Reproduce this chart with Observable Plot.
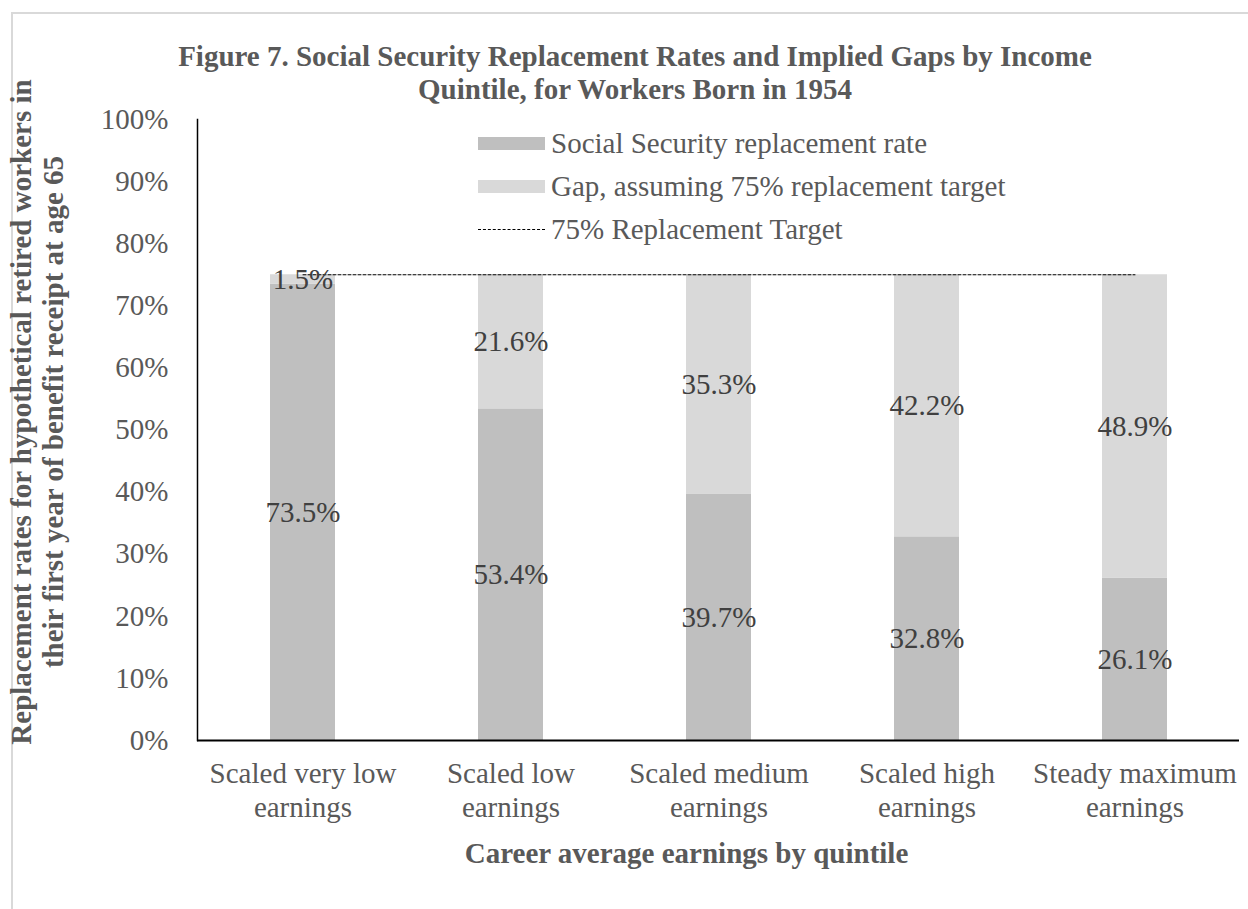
<!DOCTYPE html>
<html>
<head>
<meta charset="utf-8">
<script src="https://cdn.jsdelivr.net/npm/d3@7"></script>
<script src="https://cdn.jsdelivr.net/npm/@observablehq/plot@0.6"></script>
<style>
  html, body { margin: 0; padding: 0; background: #fff; }
  #wrap { position: relative; width: 1248px; height: 909px; overflow: hidden; font-family: "Liberation Serif", "Times New Roman", serif; }
  #border { position: absolute; left: 11px; top: 12px; width: 1300px; height: 1000px; border-top: 2px solid #d9d9d9; border-left: 2px solid #d9d9d9; }
  #title { position: absolute; left: 0; top: 40px; width: 1270px; text-align: center; font-weight: bold; font-size: 29px; line-height: 33px; color: #595959; }
  #chart { position: absolute; left: 0; top: 0; }
  .lg { position: absolute; left: 551px; font-size: 29px; line-height: 32px; color: #595959; white-space: nowrap; }
  .sw { position: absolute; width: 67px; height: 13px; left: 478px; }
  .dash { position: absolute; left: 478px; width: 67px; height: 0; border-top: 1px dashed #000; }
</style>
</head>
<body>
<div id="wrap">
  <div id="border"></div>
  <div id="chart"></div>
  <div id="title">Figure 7. Social Security Replacement Rates and Implied Gaps by Income<br>Quintile, for Workers Born in 1954</div>
  <div id="legend"></div>
</div>
<script>
const categories = ["Scaled very low earnings", "Scaled low earnings", "Scaled medium earnings", "Scaled high earnings", "Steady maximum earnings"];
const tickLabels = ["Scaled very low\nearnings", "Scaled low\nearnings", "Scaled medium\nearnings", "Scaled high\nearnings", "Steady maximum\nearnings"];
const replacementRate = [73.5, 53.4, 39.7, 32.8, 26.1];
const gapValues = [1.5, 21.6, 35.3, 42.2, 48.9];
const targetValues = [75, 75, 75, 75, 75];
const seriesNames = ["Social Security replacement rate", "Gap, assuming 75% replacement target"];
const targetName = "75% Replacement Target";
const seriesColors = ["#bfbfbf", "#d9d9d9"];
const yTicks = [0, 10, 20, 30, 40, 50, 60, 70, 80, 90, 100];
const yTitle = "Replacement rates for hypothetical retired workers in\ntheir first year of benefit receipt at age 65";
const xTitle = "Career average earnings by quintile";

const rows = [];
categories.forEach((c, i) => {
  rows.push({cat: c, series: seriesNames[0], value: replacementRate[i]});
  rows.push({cat: c, series: seriesNames[1], value: gapValues[i]});
});
const targetRows = categories.map((c, i) => ({cat: c, value: targetValues[i]}));
const labelOf = new Map(categories.map((c, i) => [c, tickLabels[i]]));

const chart = Plot.plot({
  width: 1248,
  height: 909,
  marginLeft: 197,
  marginRight: 9,
  marginTop: 119,
  marginBottom: 169,
  style: {fontFamily: "'Liberation Serif', 'Times New Roman', serif", background: "transparent"},
  x: {domain: categories, paddingInner: 0.688, paddingOuter: 0.344, axis: null},
  y: {domain: [0, 100], axis: null},
  color: {domain: seriesNames, range: seriesColors},
  marks: [
    Plot.barY(rows, {x: "cat", y: "value", fill: "series", order: seriesNames}),
    Plot.axisY({ticks: yTicks, tickFormat: d => d + "%", tickSize: 0, tickPadding: 29, fontSize: 29, fill: "#595959", label: null}),
    Plot.axisX({tickSize: 0, tickPadding: 19, fontSize: 29, lineHeight: 1.15, fill: "#595959", tickFormat: d => labelOf.get(d), label: null}),
    Plot.ruleY([0], {stroke: "#000", strokeWidth: 2}),
    Plot.frame({anchor: "left", stroke: "#000", strokeWidth: 1.5}),
    Plot.lineY(targetRows, {x: "cat", y: "value", stroke: "#000", strokeWidth: 1, strokeDasharray: "3,2"}),
    Plot.text(rows, Plot.stackY({x: "cat", y: "value", order: seriesNames, z: "series", text: d => d.value.toFixed(1) + "%", fontSize: 29, fill: "#404040"})),
    Plot.text([yTitle], {frameAnchor: "left", dx: -161, dy: -18, rotate: -90, textAnchor: "middle", lineAnchor: "middle", lineHeight: 1.1, fontSize: 29, fontWeight: "bold", fill: "#595959"}),
    Plot.text([xTitle], {frameAnchor: "bottom", dy: 122, dx: -32, fontSize: 29, fontWeight: "bold", fill: "#595959"})
  ]
});
document.getElementById("chart").appendChild(chart);

const legend = document.getElementById("legend");
const legendY = [143, 186, 229];
seriesNames.forEach((name, i) => {
  const sw = document.createElement("div");
  sw.className = "sw";
  sw.style.top = (legendY[i] - 6) + "px";
  sw.style.background = seriesColors[i];
  legend.appendChild(sw);
  const t = document.createElement("div");
  t.className = "lg";
  t.style.top = (legendY[i] - 16) + "px";
  t.textContent = name;
  legend.appendChild(t);
});
const dash = document.createElement("div");
dash.className = "dash";
dash.style.top = legendY[2] + "px";
legend.appendChild(dash);
const tt = document.createElement("div");
tt.className = "lg";
tt.style.top = (legendY[2] - 16) + "px";
tt.textContent = targetName;
legend.appendChild(tt);
</script>
</body>
</html>
